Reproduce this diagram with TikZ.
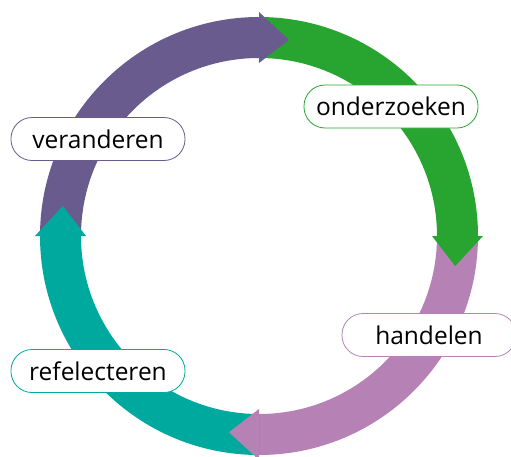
\documentclass[tikz,border=0pt]{standalone}
\usepackage{fontspec}
\setmainfont{Open Sans}

\definecolor{cyclePurple}{RGB}{106,91,142}
\definecolor{cycleGreen}{RGB}{40,165,49}
\definecolor{cyclePink}{RGB}{182,130,181}
\definecolor{cycleTeal}{RGB}{0,169,157}

\tikzstyle{phase} = [rectangle, rounded corners=21pt, minimum width=174pt, minimum height=43pt, text centered, fill=white, line width=0.8pt, font=\fontsize{24.5}{28}\selectfont]

\def\rin{178pt}
\def\rout{219pt}
\def\rmid{198.5pt}
\def\rhin{173pt}
\def\rhout{224pt}

% band of the cycle: colour, start angle (runs 90 degrees clockwise)
\newcommand{\cyclepart}[2]{%
  \fill[#1] ({#2}:\rout) arc[start angle={#2}, end angle={#2-90}, radius=\rout]
    -- ({#2-90}:\rin) arc[start angle={#2-90}, end angle={#2}, radius=\rin] -- cycle;}
% arrow head: colour, angle of its base
\newcommand{\cyclehead}[2]{%
  \fill[#1] ({#2}:\rhout) -- ({#2-8.7}:\rmid) -- ({#2}:\rhin) -- cycle;}

\begin{document}
\begin{tikzpicture}

\useasboundingbox (-259pt,-220pt) rectangle (252pt,236pt);

\cyclepart{cyclePurple}{180}
\cyclepart{cycleGreen}{90}
\cyclepart{cyclePink}{0}
\cyclepart{cycleTeal}{-90}

\cyclehead{cyclePurple}{90}
\cyclehead{cycleGreen}{0}
\cyclehead{cyclePink}{-90}
\cyclehead{cycleTeal}{-180}

\node [phase, draw=cyclePurple] (veranderen) at (-161pt,97pt) {veranderen};
\node [phase, draw=cycleGreen] (onderzoeken) at (132pt,129.5pt) {onderzoeken};
\node [phase, draw=cyclePink] (handelen) at (170pt,-99pt) {handelen};
\node [phase, draw=cycleTeal] (refelecteren) at (-161pt,-135pt) {refelecteren};

\end{tikzpicture}
\end{document}
